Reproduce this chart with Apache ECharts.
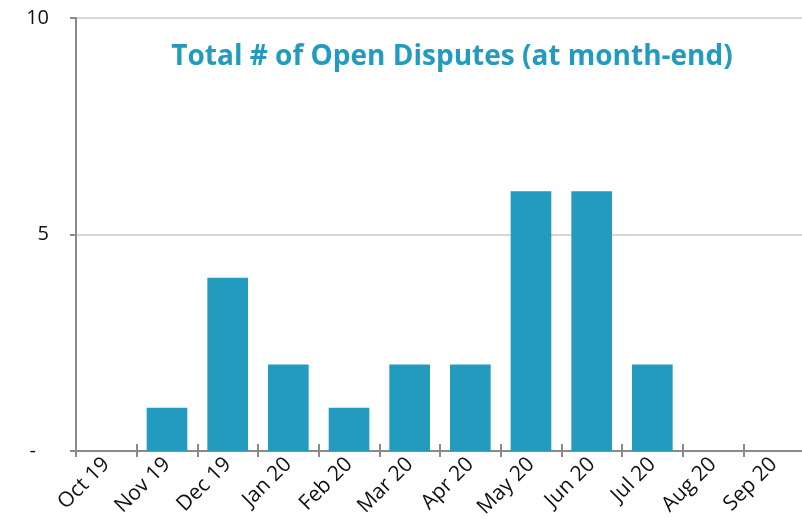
<!DOCTYPE html>
<html>
<head>
<meta charset="utf-8">
<script src="https://cdn.jsdelivr.net/npm/echarts@6/dist/echarts.min.js"></script>
<style>
  html, body { margin: 0; padding: 0; background: #fff; }
  #chart { width: 802px; height: 519px; }
</style>
</head>
<body>
<div id="chart"></div>
<script>
// data
var months = ['Oct 19', 'Nov 19', 'Dec 19', 'Jan 20', 'Feb 20', 'Mar 20',
              'Apr 20', 'May 20', 'Jun 20', 'Jul 20', 'Aug 20', 'Sep 20'];
var openDisputes = [0, 1, 4, 2, 1, 2, 2, 6, 6, 2, 0, 0];
var chartTitle = 'Total # of Open Disputes (at month-end)';

var chart = echarts.init(document.getElementById('chart'));

var option = {
    animation: false,
    textStyle: { fontFamily: 'Open Sans' },

    // Title inside plot
    title: {
        text: chartTitle,
        left: 447,
        top: 38,
        textAlign: 'center',
        textStyle: {
            color: '#239bbe',
            fontSize: 28,
            fontWeight: 'bold',
            fontFamily: 'Open Sans'
        }
    },

    grid: {
        left: 76,
        right: -2,
        top: 18,
        bottom: 68,
        containLabel: false,
        outerBoundsMode: 'none'
    },

    xAxis: [{
        type: 'category',
        data: months,
        axisLine: { lineStyle: { color: '#8a8a8a', width: 2 } },
        axisTick: {
            show: true,
            length: 6,
            lineStyle: { color: '#8a8a8a', width: 2 }
        },
        axisLabel: {
            rotate: 45,
            margin: 10,
            fontSize: 21,
            fontFamily: 'Open Sans',
            color: '#111',
            interval: 0
        }
    }, {
        // second axis only for the upward half of the ticks
        type: 'category',
        data: months,
        position: 'bottom',
        axisLine: { show: false },
        axisTick: {
            show: true,
            inside: true,
            length: 7,
            lineStyle: { color: '#8a8a8a', width: 2 }
        },
        axisLabel: { show: false }
    }],

    yAxis: {
        type: 'value',
        min: 0,
        max: 10,
        interval: 5,
        axisLine: { show: true, lineStyle: { color: '#8a8a8a', width: 2 } },
        axisTick: { show: true, length: 6, lineStyle: { color: '#8a8a8a', width: 2 } },
        splitLine: { lineStyle: { color: '#c8c8c8', width: 1.5 } },
        axisLabel: {
            margin: 27,
            fontSize: 20,
            fontFamily: 'Open Sans',
            color: '#111',
            formatter: function (v) {
                return v === 0 ? '{d|-}' : String(v);
            },
            rich: {
                d: { fontSize: 20, color: '#111', padding: [0, 13, 0, 0] }
            }
        }
    },

    series: [{
        name: 'Open Disputes',
        type: 'bar',
        data: openDisputes,
        barCategoryGap: '33%',
        itemStyle: {
            color: '#239bbe'
        }
    }]
};

chart.setOption(option);
</script>
</body>
</html>
